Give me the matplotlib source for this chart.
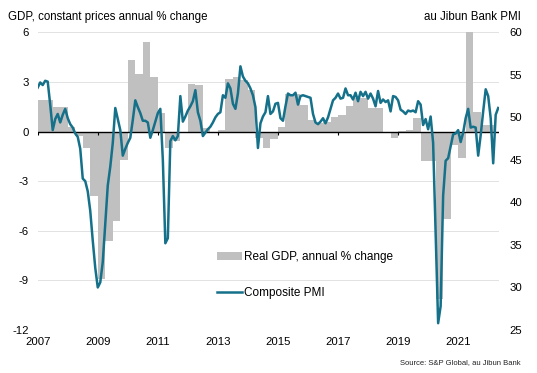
import numpy as np
import matplotlib
matplotlib.use("Agg")
import matplotlib.pyplot as plt

plt.rcParams['font.family'] = ['Liberation Sans', 'DejaVu Sans']

# Real GDP, y/y %, quarterly from 2007 Q1 to 2022 Q1
gdp = [1.9, 1.9, 1.5, 1.5,
       0.3, -0.3, -1.0, -3.9,
       -8.9, -6.6, -5.4, -1.7,
       4.3, 3.5, 5.4, 3.3,
       1.1, -1.0, -0.6, 0.0,
       2.85, 2.8, 0.2, 0.0,
       0.1, 3.2, 3.3, 3.1,
       2.5, -0.4, -1.0, -0.45,
       0.3, 2.25, 2.25, 1.6,
       0.7, 0.5, 0.6, 0.9,
       1.0, 1.55, 2.0, 2.0,
       1.4, 1.4, -0.1, -0.4,
       0.05, 0.1, 0.8, -1.8,
       -1.8, -10.1, -5.3, -0.8,
       -1.6, 7.3, 1.2, 0.4,
       0.4]

# Composite PMI, monthly, Dec 2006 to Apr 2022
pmi = [53.5,
       54.1, 53.8, 54.3, 54.2, 51.5, 48.5, 49.8, 50.4, 49.4, 50.3, 51.0, 49.9,
       49.2, 48.8, 48.1, 47.7, 46.3, 42.8, 42.5, 41.3, 39.0, 35.5, 32.3, 30.0,
       30.6, 33.0, 37.5, 42.0, 44.2, 47.0, 51.1, 49.8, 48.5, 45.5, 46.3, 47.0,
       47.6, 49.7, 52.0, 51.2, 50.5, 49.6, 49.6, 49.4, 47.6, 48.5, 49.5, 50.5,
       51.0, 45.0, 35.2, 35.8, 47.2, 47.8, 47.3, 47.8, 52.5, 49.5, 50.1, 50.8,
       51.3, 51.9, 53.2, 50.6, 49.6, 47.8, 48.2, 48.6, 48.9, 49.4, 50.0, 50.4,
       50.6, 52.6, 52.3, 54.0, 53.4, 51.6, 51.0, 52.8, 56.0, 54.8, 54.3, 54.0,
       53.4, 52.6, 51.2, 46.4, 49.3, 50.1, 50.6, 52.5, 50.4, 50.7, 51.6, 51.7,
       49.9, 49.6, 51.3, 52.8, 52.6, 52.6, 52.9, 51.5, 52.5, 52.6, 52.5, 52.4,
       52.3, 50.4, 49.4, 49.2, 49.5, 49.9, 49.3, 50.0, 51.0, 52.0, 52.3, 52.8,
       52.2, 52.3, 53.4, 52.6, 52.6, 52.1, 52.9, 51.9, 53.0, 52.5, 53.0, 52.2,
       52.8, 52.2, 51.3, 53.1, 51.7, 52.1, 51.8, 52.0, 50.7, 52.5, 52.4, 52.0,
       50.9, 50.7, 50.4, 50.8, 50.7, 50.8, 50.6, 51.9, 51.5, 49.1, 49.8, 48.6,
       50.1, 47.0, 36.2, 25.8, 27.8, 40.8, 44.9, 45.2, 46.6, 48.0, 48.1, 48.5,
       47.1, 48.2, 49.9, 51.0, 48.8, 48.9, 48.8, 45.5, 47.9, 50.7, 53.3, 52.5,
       49.9, 44.6, 50.3, 51.1]

years = [2007, 2009, 2011, 2013, 2015, 2017, 2019, 2021]
left_ticks = [6, 3, 0, -3, -6, -9, -12]
right_ticks = [60, 55, 50, 45, 40, 35, 30, 25]

gdp_x = 2007 + np.arange(len(gdp)) * 0.25
pmi_x = 2007 + np.arange(len(pmi)) / 12.0

teal = '#15708a'
grey = '#c0c0c0'

fig = plt.figure(figsize=(5.37, 3.73), dpi=100)
ax = fig.add_axes([37.7 / 537, 1 - 330 / 373, (499 - 37.7) / 537, (330 - 32.3) / 373])
ax2 = ax.twinx()

# gdp bars
bars = ax.bar(gdp_x, gdp, width=0.25, align='edge', color=grey, linewidth=0,
              label='Real GDP, annual % change', zorder=2)
ax.set_ylim(-12, 6)
ax.set_yticks(left_ticks)
ax.set_yticklabels([str(t) for t in left_ticks])
ax.grid(axis='y', color='#e2e2e2', linewidth=0.7, zorder=0)
ax.set_axisbelow(True)
ax.axhline(0, color='black', linewidth=1.0, zorder=3)
ax.vlines(years, -0.2, 0, color='black', linewidth=0.8, zorder=3)

# pmi line
line, = ax2.plot(pmi_x, pmi, color=teal, linewidth=1.8, label='Composite PMI',
                 solid_joinstyle='round', zorder=4)
ax2.set_ylim(25, 60)
ax2.set_yticks(right_ticks)

ax.set_xlim(2007, 2022.36)
ax.set_xticks(years)
ax.set_xticklabels([str(y) for y in years])

for a in (ax, ax2):
    for s in a.spines.values():
        s.set_visible(False)
    a.tick_params(length=0, labelsize=8.2, colors='black')
ax.tick_params(axis='y', pad=6.5)
ax.tick_params(axis='x', pad=5)
ax2.tick_params(axis='y', pad=7.5)

ax2.legend([bars, line], ['Real GDP, annual % change', 'Composite PMI'],
           loc='upper left', bbox_to_anchor=(0.3887, 0.265), frameon=False,
           fontsize=8.5, handlelength=2.1, handletextpad=0.2, labelspacing=2.05,
           borderpad=0, borderaxespad=0)

fig.text(8 / 537, 1 - 17 / 373, 'GDP, constant prices annual % change',
         fontsize=8.3, ha='left', va='center')
fig.text(521 / 537, 1 - 17 / 373, 'au Jibun Bank PMI',
         fontsize=8.3, ha='right', va='center')
fig.text(521 / 537, 1 - 362.5 / 373, 'Source: S&P Global, au Jibun Bank',
         fontsize=5.5, ha='right', va='center', color='#222222')

fig.savefig('out.png', dpi=100)
plt.close(fig)
